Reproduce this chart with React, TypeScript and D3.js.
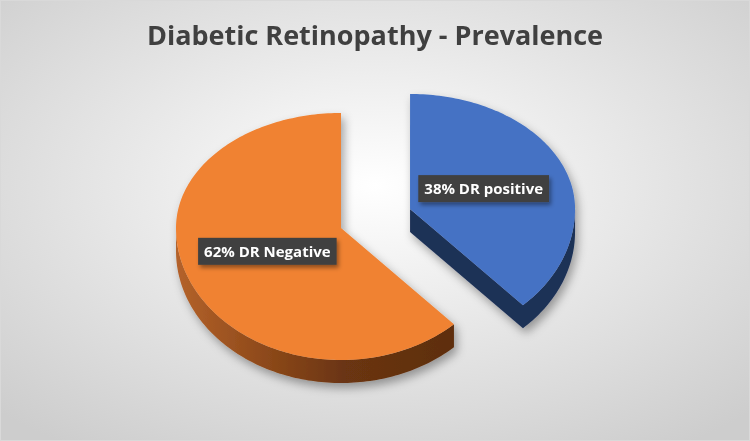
import React, { useRef, useEffect } from 'react';
import * as d3 from 'd3';

// Chart data
const categories = ['DR positive', 'DR Negative'];
const values = [38, 62];
const explodeBy = [0.45, 0]; // fraction of radius each slice is pulled out
const title = 'Diabetic Retinopathy - Prevalence';

const topColors = ['#4472C4', '#F08232'];
const sideColors = ['#1C3057', '#7A3D14'];

const W = 750;
const H = 441;

const App = () => {
  const ref = useRef<HTMLDivElement>(null);

  useEffect(() => {
    const root = d3.select(ref.current);
    root.selectAll('*').remove();

    const svg = root
      .append('svg')
      .attr('width', W)
      .attr('height', H)
      .style('display', 'block');

    const defs = svg.append('defs');

    // background radial gradient
    const bg = defs
      .append('radialGradient')
      .attr('id', 'bg')
      .attr('cx', '50%')
      .attr('cy', '42%')
      .attr('r', '72%');
    bg.append('stop').attr('offset', '0%').attr('stop-color', '#ffffff');
    bg.append('stop').attr('offset', '100%').attr('stop-color', '#cdcdcd');

    const shadow = defs
      .append('filter')
      .attr('id', 'shadow')
      .attr('x', '-20%')
      .attr('y', '-20%')
      .attr('width', '140%')
      .attr('height', '140%');
    shadow
      .append('feDropShadow')
      .attr('dx', 3)
      .attr('dy', 5)
      .attr('stdDeviation', 5)
      .attr('flood-color', '#000')
      .attr('flood-opacity', 0.35);

    const labelShadow = defs
      .append('filter')
      .attr('id', 'labelShadow')
      .attr('x', '-20%')
      .attr('y', '-40%')
      .attr('width', '140%')
      .attr('height', '180%');
    labelShadow
      .append('feDropShadow')
      .attr('dx', 2)
      .attr('dy', 3)
      .attr('stdDeviation', 2)
      .attr('flood-color', '#000')
      .attr('flood-opacity', 0.4);

    // orange rim gradient (lighter on the left, darker to the right)
    const rimGrad = defs
      .append('linearGradient')
      .attr('id', 'rim1')
      .attr('x1', '0%')
      .attr('x2', '100%');
    rimGrad.append('stop').attr('offset', '0%').attr('stop-color', '#B4622A');
    rimGrad.append('stop').attr('offset', '35%').attr('stop-color', '#8A4719');
    rimGrad.append('stop').attr('offset', '60%').attr('stop-color', '#6B3512');
    rimGrad.append('stop').attr('offset', '100%').attr('stop-color', '#5E2E0E');

    svg
      .append('rect')
      .attr('x', 0.5)
      .attr('y', 0.5)
      .attr('width', W - 1)
      .attr('height', H - 1)
      .attr('fill', 'url(#bg)')
      .attr('stroke', '#d9d9d9');

    svg
      .append('text')
      .attr('x', W / 2)
      .attr('y', 45)
      .attr('text-anchor', 'middle')
      .style('font-family', '"Open Sans", sans-serif')
      .style('font-weight', 700)
      .style('font-size', '27px')
      .attr('fill', '#404040')
      .text(title);

    // pie geometry (tilted disc)
    const cx = 341;
    const cy = 228;
    const rx = 165;
    const ryBack = 115;
    const ryFront = 132;
    const depth = 23;

    const pt = (a: number, r: number, ox: number, oy: number, dz = 0) => {
      const u = Math.sin(a);
      const v = -Math.cos(a);
      return [ox + u * rx * r, oy + v * (v < 0 ? ryBack : ryFront) * r + dz];
    };

    const arcs = d3
      .pie<number>()
      .sort(null)
      .startAngle(0)
      .endAngle(2 * Math.PI)(values);

    const line = d3.line();
    const sample = (a0: number, a1: number, ox: number, oy: number, dz: number) => {
      const n = Math.max(2, Math.ceil(Math.abs(a1 - a0) / 0.02));
      return d3.range(n + 1).map((i) => pt(a0 + ((a1 - a0) * i) / n, 1, ox, oy, dz));
    };

    // draw slice further back first
    const order = [0, 1];
    const labelPos: number[][] = [];

    order.forEach((i) => {
      const d = arcs[i];
      const mid = (d.startAngle + d.endAngle) / 2;
      const off = pt(mid, explodeBy[i], 0, 0);
      const ox = cx + off[0];
      const oy = cy + off[1];
      const g = svg.append('g').attr('filter', 'url(#shadow)');

      // outer rim, only the part that faces the viewer
      const r0 = Math.max(d.startAngle, Math.PI / 2);
      const r1 = Math.min(d.endAngle, (3 * Math.PI) / 2);
      if (r1 > r0) {
        const pts = sample(r0, r1, ox, oy, 0).concat(sample(r1, r0, ox, oy, depth));
        g.append('path')
          .attr('d', line(pts as [number, number][]) + 'Z')
          .attr('fill', i === 1 ? 'url(#rim1)' : sideColors[i]);
      }

      // radial side at end edge (visible when it faces forward)
      if (Math.sin(d.endAngle) > 0.01) {
        const e = pt(d.endAngle, 1, ox, oy);
        g.append('path')
          .attr(
            'd',
            line([
              [ox, oy],
              [e[0], e[1]],
              [e[0], e[1] + depth],
              [ox, oy + depth],
            ]) + 'Z'
          )
          .attr('fill', sideColors[i]);
      }
      if (Math.sin(d.startAngle) < -0.01) {
        const s = pt(d.startAngle, 1, ox, oy);
        g.append('path')
          .attr(
            'd',
            line([
              [ox, oy],
              [s[0], s[1]],
              [s[0], s[1] + depth],
              [ox, oy + depth],
            ]) + 'Z'
          )
          .attr('fill', sideColors[i]);
      }

      // top face
      const top = [[ox, oy]].concat(sample(d.startAngle, d.endAngle, ox, oy, 0));
      g.append('path')
        .attr('d', line(top as [number, number][]) + 'Z')
        .attr('fill', topColors[i]);

      labelPos[i] = pt(mid, 0.48, ox, oy);
    });

    // data labels
    order.forEach((i) => {
      const [lx, ly] = labelPos[i];
      const lg = svg.append('g').attr('transform', `translate(${lx},${ly})`);
      const box = lg.append('rect').attr('fill', '#404040').attr('filter', 'url(#labelShadow)');
      const t = lg
        .append('text')
        .attr('text-anchor', 'middle')
        .attr('y', 5.5)
        .style('font-family', '"Open Sans", sans-serif')
        .style('font-weight', 700)
        .style('font-size', '15px')
        .attr('fill', '#ffffff')
        .text(`${values[i]}% ${categories[i]}`);
      const tw = (t.node() as SVGTextElement).getComputedTextLength();
      box
        .attr('x', -tw / 2 - 6)
        .attr('y', -13.5)
        .attr('width', tw + 12)
        .attr('height', 27);
    });
  }, []);

  return (
    <div style={{ position: 'fixed', left: 0, top: 0 }}>
      <div ref={ref}></div>
    </div>
  );
};

export default App;
